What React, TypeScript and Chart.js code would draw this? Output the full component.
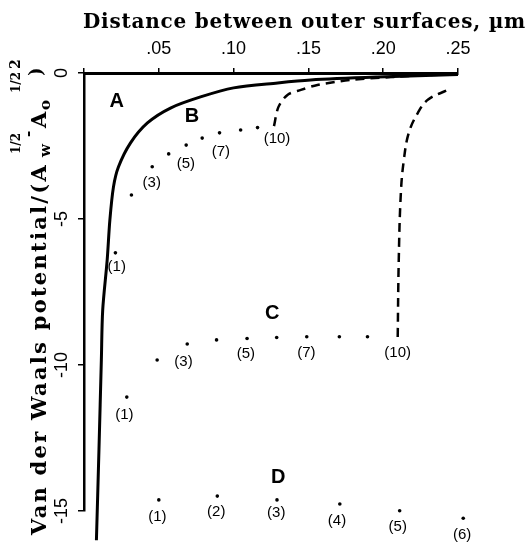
import React, { useEffect, useRef } from "react";
import { Chart, registerables } from "chart.js";
Chart.register(...registerables);

// ---- Data (x in µm, y in reduced potential units) ----
const curveAX = [0.0083, 0.0100, 0.0116, 0.0125, 0.0155, 0.0173, 0.0197, 0.023, 0.031, 0.0424, 0.0578, 0.0779, 0.1, 0.1295, 0.1515, 0.196, 0.25];
const curveAY = [-16.0, -12.9, -9.83, -8.12, -6.4, -5.03, -3.9, -3.22, -2.4, -1.71, -1.2, -0.82, -0.51, -0.34, -0.24, -0.14, -0.05];

const dashBX = [0.127, 0.130, 0.136, 0.145, 0.156, 0.178, 0.205, 0.249];
const dashBY = [-1.82, -1.16, -0.75, -0.58, -0.41, -0.24, -0.14, -0.03];

const dashCX = [0.2097, 0.2104, 0.2118, 0.2138, 0.2171, 0.2231, 0.2298, 0.2432];
const dashCY = [-9.04, -6.4, -4.11, -2.98, -2.05, -1.37, -0.92, -0.58];

const dotsBX = [0.021, 0.0317, 0.0456, 0.0566, 0.0683, 0.079, 0.0906, 0.1047, 0.116];
const dotsBY = [-6.16, -4.18, -3.21, -2.77, -2.47, -2.23, -2.05, -1.95, -1.87];

const dotsCX = [0.0286, 0.0489, 0.069, 0.0886, 0.109, 0.1288, 0.1489, 0.1707, 0.1895];
const dotsCY = [-11.1, -9.83, -9.28, -9.14, -9.09, -9.06, -9.03, -9.03, -9.03];

const dotsDX = [0.05, 0.0891, 0.129, 0.171, 0.211, 0.2535];
const dotsDY = [-14.62, -14.49, -14.62, -14.76, -14.99, -15.25];

const curveNames = ["A", "B", "C", "D"];
const curveNameX = [0.0219, 0.0721, 0.1258, 0.1299];
const curveNameY = [-0.98, -1.5, -8.22, -13.84];

const pointLabelText = ["(1)", "(3)", "(5)", "(7)", "(10)", "(1)", "(3)", "(5)", "(7)", "(10)", "(1)", "(2)", "(3)", "(4)", "(5)", "(6)"];
const pointLabelX = [0.0219, 0.0453, 0.0681, 0.0915, 0.129, 0.027, 0.0665, 0.1082, 0.1486, 0.2097, 0.0491, 0.0884, 0.1285, 0.1691, 0.2097, 0.2528];
const pointLabelY = [-6.63, -3.76, -3.12, -2.7, -2.26, -11.71, -9.89, -9.63, -9.57, -9.6, -15.2, -15.04, -15.08, -15.33, -15.54, -15.82];

const xTickLabels = ["", ".05", ".10", ".15", ".20", ".25"];
const yTickLabels = ["0", "-5", "-10", "-15"];
const yTickValues = [0, -5, -10, -15];

const xTitle = "Distance between outer surfaces, \u00b5m";
const yTitleMain = "Van der Waals potential/(A";

const pts = (xs: number[], ys: number[]) => xs.map((x, i) => ({ x, y: ys[i] }));

export default function App() {
  const ref = useRef<HTMLCanvasElement>(null);
  useEffect(() => {
    if (!ref.current) return;
    const serif = '"DejaVu Serif", serif';
    const sans = '"Liberation Sans", Arial, sans-serif';

    const fitText = (ctx: CanvasRenderingContext2D, text: string, target: number) => {
      (ctx as any).letterSpacing = "0px";
      const w0 = ctx.measureText(text).width;
      const ls = (target - w0) / text.length;
      (ctx as any).letterSpacing = ls + "px";
    };

    // lets marks that sit just outside the axes (below -15, past .25) be drawn, as in the original
    let savedArea: any = null;
    const areaPlugin = {
      id: "openArea",
      beforeDatasetsDraw(chart: any) {
        savedArea = chart.chartArea;
        chart.chartArea = { left: 0, top: 0, right: chart.width, bottom: chart.height, width: chart.width, height: chart.height };
      },
      afterDatasetsDraw(chart: any) {
        if (savedArea) chart.chartArea = savedArea;
      },
    };

    const textPlugin = {
      id: "texts",
      afterDraw(chart: any) {
        const { ctx, scales } = chart;
        const xs = scales.x;
        const ys = scales.y;
        ctx.save();
        ctx.fillStyle = "#000";

        // x-axis title
        ctx.font = `bold 20px ${serif}`;
        ctx.textAlign = "left";
        ctx.textBaseline = "alphabetic";
        fitText(ctx, xTitle, 443);
        ctx.fillText(xTitle, 83, 28);
        (ctx as any).letterSpacing = "0px";

        // y tick labels (rotated)
        ctx.font = `18px ${sans}`;
        ctx.textAlign = "center";
        ctx.textBaseline = "middle";
        yTickValues.forEach((v, i) => {
          ctx.save();
          ctx.translate(62, ys.getPixelForValue(v));
          ctx.rotate(-Math.PI / 2);
          ctx.fillText(yTickLabels[i], 0, 0);
          ctx.restore();
        });

        // y-axis title (rotated, with sub/superscripts)
        ctx.save();
        ctx.translate(46, 535);
        ctx.rotate(-Math.PI / 2);
        ctx.textAlign = "left";
        ctx.textBaseline = "alphabetic";
        ctx.font = `bold 21px ${serif}`;
        fitText(ctx, yTitleMain, 372);
        ctx.fillText(yTitleMain, 0, 0);
        (ctx as any).letterSpacing = "0px";
        ctx.font = `bold 15px ${serif}`;
        ctx.fillText("w", 378, 4);
        ctx.font = `bold 12px ${serif}`;
        ctx.fillText("1/2", 381, -26);
        ctx.font = `bold 15px ${serif}`;
        ctx.fillText("-", 398, -13);
        ctx.font = `bold 21px ${serif}`;
        ctx.fillText("A", 407, 0);
        ctx.font = `bold 15px ${serif}`;
        ctx.fillText("o", 425, 4);
        ctx.font = `bold 12px ${serif}`;
        ctx.fillText("1/2", 442, -26);
        ctx.font = `bold 18px ${serif}`;
        ctx.fillText(")", 459, -4);
        ctx.font = `bold 14px ${serif}`;
        ctx.fillText("2", 466, -26);
        ctx.restore();

        // curve names
        ctx.font = `bold 20px ${sans}`;
        ctx.textAlign = "center";
        ctx.textBaseline = "middle";
        curveNames.forEach((n, i) => {
          ctx.fillText(n, xs.getPixelForValue(curveNameX[i]), ys.getPixelForValue(curveNameY[i]));
        });

        // point labels
        ctx.font = `15px ${sans}`;
        pointLabelText.forEach((t, i) => {
          ctx.fillText(t, xs.getPixelForValue(pointLabelX[i]), ys.getPixelForValue(pointLabelY[i]));
        });
        ctx.restore();
      },
    };

    const dotStyle = {
      showLine: false,
      pointRadius: 1.8,
      pointBackgroundColor: "#000",
      pointBorderWidth: 0,
      clip: false as any,
    };

    const chart = new Chart(ref.current, {
      type: "scatter",
      data: {
        datasets: [
          {
            data: pts(curveAX, curveAY),
            showLine: true,
            borderColor: "#000",
            borderWidth: 3,
            pointRadius: 0,
            tension: 0.3,
            clip: false as any,
          },
          {
            data: pts(dashBX, dashBY),
            showLine: true,
            borderColor: "#000",
            borderWidth: 2.5,
            borderDash: [9, 6],
            pointRadius: 0,
            tension: 0.3,
            clip: false as any,
          },
          {
            data: pts(dashCX, dashCY),
            showLine: true,
            borderColor: "#000",
            borderWidth: 2.5,
            borderDash: [9, 6],
            pointRadius: 0,
            tension: 0.4,
            clip: false as any,
          },
          { data: pts(dotsBX, dotsBY), ...dotStyle },
          { data: pts(dotsCX, dotsCY), ...dotStyle },
          { data: pts(dotsDX, dotsDY), ...dotStyle },
        ],
      },
      options: {
        animation: false,
        responsive: false,
        devicePixelRatio: 1,
        layout: { padding: { left: 0, top: 0, right: 70, bottom: 31 } },
        plugins: { legend: { display: false }, tooltip: { enabled: false } },
        scales: {
          x: {
            type: "linear",
            position: "top",
            min: 0,
            max: 0.25,
            ticks: {
              stepSize: 0.05,
              maxRotation: 0,
              minRotation: 0,
              padding: 8,
              color: "#000",
              font: { family: "Liberation Sans", size: 18 },
              callback: (_v: any, i: number) => xTickLabels[i],
            },
            grid: { drawOnChartArea: false, drawTicks: true, tickLength: 5, color: "#000", lineWidth: 1.5 },
            border: { display: true, color: "#000", width: 3 },
            afterFit: (s: any) => {
              s.height = 73;
            },
          },
          y: {
            type: "linear",
            min: -15,
            max: 0,
            ticks: { stepSize: 5, display: false },
            grid: { drawOnChartArea: false, drawTicks: true, tickLength: 6, color: "#000", lineWidth: 1.5 },
            border: { display: true, color: "#000", width: 2.5 },
            afterFit: (s: any) => {
              s.width = 84;
            },
          },
        },
      },
      plugins: [areaPlugin, textPlugin],
    });
    return () => chart.destroy();
  }, []);
  return (
    <div style={{ position: "absolute", left: 0, top: 0, width: 528, height: 542, background: "#fff" }}>
      <canvas ref={ref} width={528} height={542} />
    </div>
  );
}
